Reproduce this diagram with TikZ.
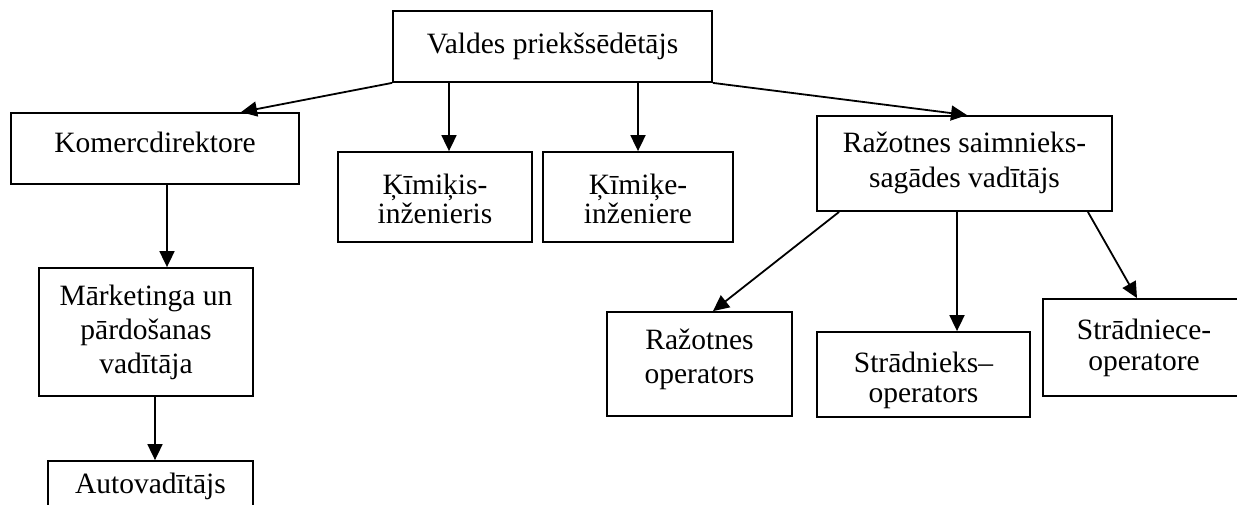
\documentclass[tikz,border=0pt]{standalone}
\usepackage{fontspec}
\setmainfont{Liberation Serif}
\usetikzlibrary{arrows.meta,calc}
\newcommand{\boxtext}[3]{\raisebox{#1pt}[0pt][0pt]{\fontsize{29.5}{#2}\selectfont\begin{tabular}[t]{@{}c@{}}#3\end{tabular}}}
\tikzset{
  orgbox/.style={draw, line width=1.8pt, inner sep=0pt, rectangle},
  arr/.style={line width=1.8pt, -{Triangle[length=16pt,width=15pt]}}
}
\begin{document}
\begin{tikzpicture}[x=1pt,y=-1pt]
\useasboundingbox (0,0) rectangle (1237,504);
\clip (0,0) rectangle (1237,504);
% nodes
\node[orgbox, minimum width=319pt, minimum height=71pt] (valdes) at (552.5,46.5) {\boxtext{-6.5}{34}{Valdes priekšsēdētājs}};
\node[orgbox, minimum width=288pt, minimum height=71pt] (komerc) at (155,148.5) {\boxtext{-3.5}{34}{Komercdirektore}};
\node[orgbox, minimum width=194pt, minimum height=90pt] (kimikis) at (435,197) {\boxtext{3}{29}{Ķīmiķis-\\inženieris}};
\node[orgbox, minimum width=190pt, minimum height=90pt] (kimike) at (638,197) {\boxtext{3}{29}{Ķīmiķe-\\inženiere}};
\node[orgbox, minimum width=295pt, minimum height=95pt] (raz) at (964.5,163.5) {\boxtext{11.5}{35}{Ražotnes saimnieks-\\sagādes vadītājs}};
\node[orgbox, minimum width=214pt, minimum height=128pt] (mark) at (146,332) {\boxtext{27}{34}{Mārketinga un\\pārdošanas\\vadītāja}};
\node[orgbox, minimum width=205pt, minimum height=64pt] (auto) at (150.5,493) {\boxtext{0}{34}{Autovadītājs}};
\node[orgbox, minimum width=185pt, minimum height=104pt] (ops) at (699.5,364) {\boxtext{15}{34}{Ražotnes\\operators}};
\node[orgbox, minimum width=213pt, minimum height=85pt] (str) at (923.5,374.5) {\boxtext{2.5}{30}{Strādnieks–\\operators}};
\node[orgbox, minimum width=202pt, minimum height=97pt] (stre) at (1144,347.5) {\boxtext{8.5}{31}{Strādniece-\\operatore}};
% helper coordinates
\coordinate (k1) at ($(kimikis.north)+(14,0)$);
\coordinate (m1) at ($(komerc.south)+(12,0)$);
\coordinate (a1) at ($(mark.south)+(9,0)$);
\coordinate (s1) at ($(raz.south)+(-7.5,0)$);
% connectors
\draw[arr] (valdes.south west) -- ($(komerc.north)+(86,0)$);
\draw[arr] (valdes.south -| k1) -- (k1);
\draw[arr] (valdes.south -| kimike.north) -- (kimike.north);
\draw[arr] (valdes.south east) -- ($(raz.north)+(2.5,0)$);
\draw[arr] (m1) -- (m1 |- mark.north);
\draw[arr] (a1) -- (a1 |- auto.north);
\draw[arr] ($(raz.south west)+(23,0)$) -- ($(ops.north)+(13.5,0)$);
\draw[arr] (s1) -- (s1 |- str.north);
\draw[arr] ($(raz.south east)+(-25,0)$) -- ($(stre.north)+(-7,0)$);
\end{tikzpicture}
\end{document}
